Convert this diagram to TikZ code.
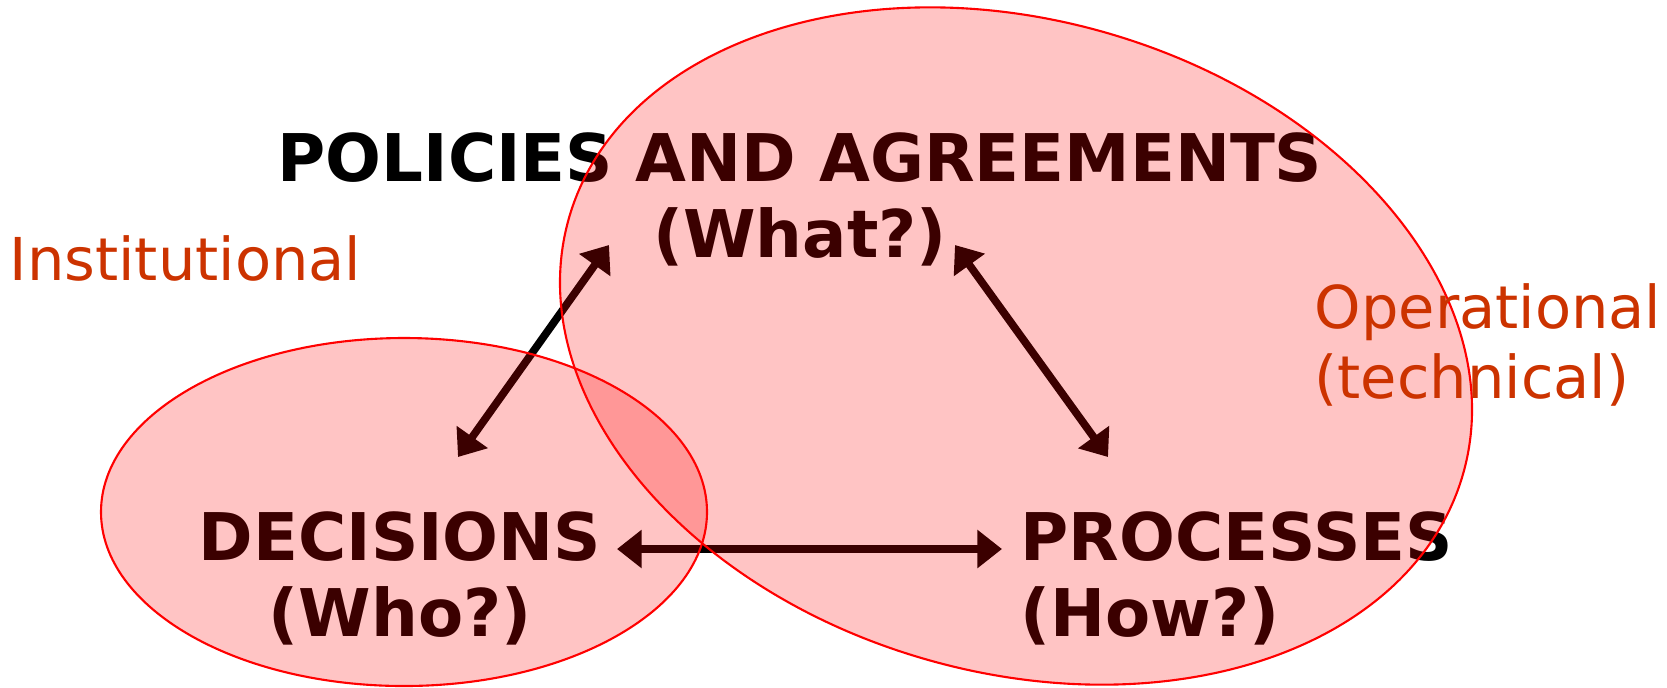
\documentclass[tikz,border=0pt]{standalone}
\usepackage{fontspec}
\setmainfont{DejaVu Sans}
\usepackage{tikz}
\usetikzlibrary{arrows.meta}
\usetikzlibrary{calc}

\definecolor{sideorange}{HTML}{CC3300}

\begin{document}
\begin{tikzpicture}[x=0.01cm, y=-0.01cm,
        bigword/.style={font=\bfseries\fontsize{18.7}{21.6}\selectfont, inner sep=0pt},
        sideword/.style={font=\fontsize{16.8}{19.9}\selectfont, text=sideorange, inner sep=0pt, align=left},
        twoway/.style={line width=2.2pt, {Triangle[length=7pt,width=10.5pt]}-{Triangle[length=7pt,width=10.5pt]}},
        blob/.style={draw=red, line width=0.6pt, fill=red, fill opacity=0.23}]

        \useasboundingbox (0,0) rectangle (1667,687);

        \node[bigword, align=center] (policies) at (800,199) {POLICIES AND AGREEMENTS\\(What?)};

        \node[bigword, align=center] (decisions) at (400,578) {DECISIONS\\(Who?)};

        \node[bigword, align=left, anchor=west] (processes) at (1020,578) {PROCESSES\\(How?)};

        \coordinate (decTop) at (458,457);
        \coordinate (polLeft) at (609,245);
        \coordinate (polRight) at (955,245);
        \coordinate (procTop) at (1108,457);
        \coordinate (decRight) at (617,549);
        \coordinate (procLeft) at (1002,549);

        \draw[twoway] (decTop) -- (polLeft);

        \draw[twoway] (polRight) -- (procTop);

        \draw[twoway] (decRight) -- (procLeft);

        \draw[blob] (404,512) ellipse [x radius=303, y radius=174];

        \draw[blob, rotate around={-16:(1016,346)}] (1016,346) ellipse [x radius=465, y radius=326];

        \node[sideword, anchor=base west] (inst) at (9,280) {Institutional};

        \node[sideword, anchor=west] (oper) at (1314,345) {Operational\\(technical)};

    \end{tikzpicture}
\end{document}
